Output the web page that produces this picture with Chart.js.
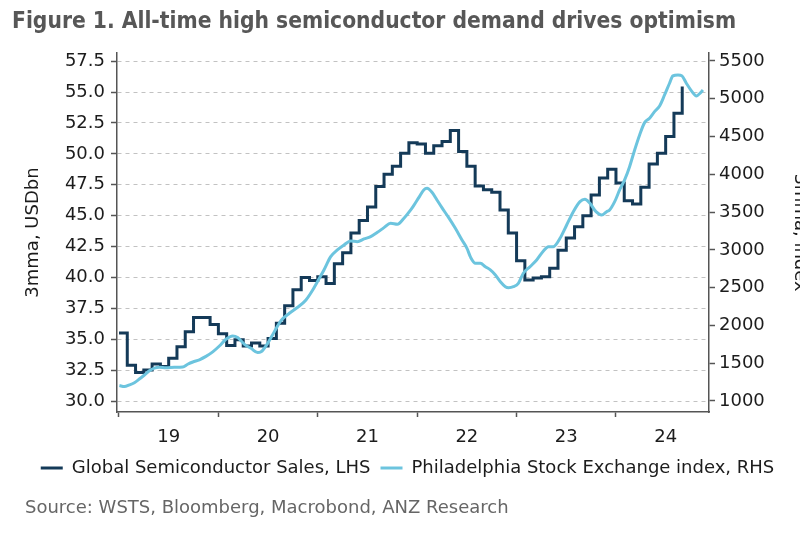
<!DOCTYPE html>
<html>
<head>
<meta charset="utf-8">
<script src="https://cdn.jsdelivr.net/npm/chart.js@4.4.1/dist/chart.umd.min.js"></script>
<style>
  html, body { margin: 0; padding: 0; overflow: hidden; background: #ffffff; width: 800px; height: 542px; }
  #wrap { position: relative; width: 815px; height: 542px; }
</style>
</head>
<body>
<div id="wrap"><canvas id="chart"></canvas></div>
<script>
const titleText = 'Figure 1. All-time high semiconductor demand drives optimism';
const sourceText = 'Source: WSTS, Bloomberg, Macrobond, ANZ Research';
const leftAxisTitle = '3mma, USDbn';
const rightAxisTitle = '3mma, index';
const semiLabel = 'Global Semiconductor Sales, LHS';
const soxLabel = 'Philadelphia Stock Exchange index, RHS';

// Monthly semiconductor sales (3mma, USDbn), Jan 2019 .. Sep 2024
const semiStartYear = 2019;
const semiSales = [
  35.5, 32.9, 32.3, 32.5, 33.0, 32.8, 33.45, 34.4, 35.6, 36.75, 36.75, 36.2,
  35.45, 34.5, 34.95, 34.45, 34.7, 34.45, 35.05, 36.3, 37.7, 39.0, 40.0, 39.75,
  40.05, 39.5, 41.1, 42.0, 43.6, 44.6, 45.7, 47.35, 48.35, 49.0, 50.05, 50.9,
  50.8, 50.05, 50.65, 51.0, 51.9, 50.2, 49.0, 47.4, 47.1, 46.9, 45.45, 43.6,
  41.35, 39.8, 39.95, 40.05, 40.75, 42.2, 43.2, 44.1, 45.0, 46.67, 48.05, 48.75,
  47.65, 46.2, 45.95, 47.3, 49.17, 50.05, 51.4, 53.28, 55.45
];

// Philadelphia semiconductor index (3mma), dates as decimal years
const soxDates = [
  2019.004, 2019.054, 2019.105, 2019.155, 2019.205, 2019.256, 2019.306, 2019.356, 2019.406, 2019.473,
  2019.557, 2019.641, 2019.691, 2019.743, 2019.809, 2019.875, 2019.943, 2020.010, 2020.076, 2020.144,
  2020.194, 2020.262, 2020.328, 2020.395, 2020.429, 2020.496, 2020.563, 2020.630, 2020.714, 2020.798,
  2020.881, 2020.949, 2020.996, 2021.062, 2021.130, 2021.197, 2021.264, 2021.331, 2021.398, 2021.465,
  2021.532, 2021.600, 2021.666, 2021.733, 2021.801, 2021.867, 2021.935, 2021.965, 2022.016, 2022.066,
  2022.099, 2022.149, 2022.199, 2022.249, 2022.317, 2022.384, 2022.451, 2022.501, 2022.538, 2022.586,
  2022.636, 2022.686, 2022.736, 2022.787, 2022.837, 2022.887, 2022.920, 2022.968, 2023.018, 2023.068,
  2023.135, 2023.202, 2023.270, 2023.320, 2023.370, 2023.437, 2023.504, 2023.571, 2023.638, 2023.688,
  2023.738, 2023.799, 2023.856, 2023.906, 2023.936, 2023.987, 2024.037, 2024.087, 2024.137, 2024.188,
  2024.238, 2024.288, 2024.338, 2024.388, 2024.439, 2024.489, 2024.539, 2024.573, 2024.624, 2024.664,
  2024.708, 2024.765, 2024.809, 2024.852, 2024.875
];
const soxValues = [
  1205, 1190, 1212, 1242, 1290, 1344, 1400, 1435, 1446, 1441,
  1446, 1450, 1486, 1516, 1545, 1590, 1650, 1728, 1817, 1860,
  1840, 1750, 1697, 1640, 1650, 1763, 1917, 2063, 2161, 2240,
  2337, 2469, 2579, 2734, 2910, 2999, 3065, 3118, 3108, 3144,
  3175, 3232, 3294, 3352, 3339, 3418, 3528, 3585, 3691, 3793,
  3815, 3762, 3660, 3558, 3426, 3285, 3130, 3020, 2900, 2822,
  2822, 2777, 2734, 2668, 2579, 2513, 2500, 2513, 2557, 2690,
  2777, 2866, 2985, 3042, 3042, 3153, 3329, 3505, 3638, 3669,
  3616, 3505, 3462, 3505, 3528, 3638, 3793, 3925, 4101, 4322,
  4521, 4684, 4742, 4829, 4904, 5050, 5205, 5302, 5315, 5302,
  5205, 5094, 5037, 5080, 5116
];

const yearTicks = [2019, 2020, 2021, 2022, 2023, 2024];
const leftTicks = [30, 32.5, 35, 37.5, 40, 42.5, 45, 47.5, 50, 52.5, 55, 57.5];
const rightTicks = [1000, 1500, 2000, 2500, 3000, 3500, 4000, 4500, 5000, 5500];

const FONT = "'DejaVu Sans', Verdana, sans-serif";
const semiColor = '#143a58';
const soxColor = '#6cc4de';
const axisColor = '#555555';
const textColor = '#1c1c1c';

Chart.defaults.font.family = FONT;
Chart.defaults.font.size = 18;
Chart.defaults.color = textColor;

const textShift = {
  id: 'textShift',
  afterLayout(chart) {
    chart.boxes.forEach(b => {
      if (!b.options) return;
      if (b.options.text === titleText) { const w = b.right - b.left; b.left = 12; b.right = 12 + w; }
      if (b.options.text === sourceText) { const w = b.right - b.left; b.left = 25; b.right = 25 + w; }
    });
  }
};

const xTicks = [];
yearTicks.forEach(y => { xTicks.push(y); xTicks.push(y + 0.5); });

new Chart(document.getElementById('chart'), {
  type: 'line',
  data: {
    datasets: [
      {
        label: semiLabel,
        data: semiSales.map((v, i) => ({ x: semiStartYear + i / 12, y: v })),
        yAxisID: 'y',
        borderColor: semiColor,
        backgroundColor: semiColor,
        borderWidth: 3,
        stepped: 'before',
        pointRadius: 0,
        order: 2
      },
      {
        label: soxLabel,
        data: soxDates.map((d, i) => ({ x: d, y: soxValues[i] })),
        yAxisID: 'y1',
        borderColor: soxColor,
        backgroundColor: soxColor,
        borderWidth: 3,
        pointRadius: 0,
        cubicInterpolationMode: 'monotone',
        order: 1
      }
    ]
  },
  options: {
    responsive: true,
    maintainAspectRatio: false,
    animation: false,
    events: [],
    layout: { padding: { left: 0, right: 0, top: 0, bottom: 0 } },
    scales: {
      x: {
        type: 'linear',
        min: 2018.98,
        max: 2024.936,
        afterBuildTicks: s => { s.ticks = xTicks.map(v => ({ value: v })); },
        afterFit: s => { s.height = 37; },
        ticks: {
          autoSkip: false,
          maxRotation: 0,
          padding: 10,
          color: textColor,
          font: { size: 18 },
          callback: v => (v % 1 === 0 ? '' : String(Math.floor(v) % 100))
        },
        grid: {
          drawOnChartArea: false,
          drawTicks: true,
          tickLength: 5,
          tickWidth: 1.5,
          tickColor: ctx => (ctx.tick && ctx.tick.value % 1 === 0 ? axisColor : 'rgba(0,0,0,0)')
        },
        border: { display: true, color: axisColor, width: 1.5 }
      },
      y: {
        position: 'left',
        min: 29.11,
        max: 58.16,
        afterBuildTicks: s => { s.ticks = leftTicks.map(v => ({ value: v })); },
        afterFit: s => { s.width = 117; },
        ticks: {
          padding: 6,
          color: textColor,
          font: { size: 18 },
          callback: v => Number(v).toFixed(1)
        },
        grid: {
          drawOnChartArea: true,
          color: '#c2c2c2',
          lineWidth: 1,
          drawTicks: true,
          tickLength: 6,
          tickWidth: 1.5,
          tickColor: axisColor
        },
        border: { display: true, color: axisColor, width: 1.5, dash: [4, 4] },
        title: {
          display: true,
          text: leftAxisTitle,
          color: textColor,
          font: { size: 18 },
          padding: { top: 23, bottom: 0 }
        }
      },
      y1: {
        position: 'right',
        min: 854,
        max: 5605,
        afterBuildTicks: s => { s.ticks = rightTicks.map(v => ({ value: v })); },
        afterFit: s => { s.width = 106; },
        ticks: {
          padding: 4,
          color: textColor,
          font: { size: 18 },
          callback: v => String(v)
        },
        grid: {
          drawOnChartArea: false,
          drawTicks: true,
          tickLength: 6,
          tickWidth: 1.5,
          tickColor: axisColor
        },
        border: { display: true, color: axisColor, width: 1.5 },
        title: {
          display: true,
          text: rightAxisTitle,
          color: textColor,
          font: { size: 18 },
          padding: { top: 5, bottom: 0 }
        }
      }
    },
    plugins: {
      tooltip: { enabled: false },
      title: {
        display: true,
        text: titleText,
        align: 'start',
        color: '#575757',
        font: { family: "'DejaVu Sans Condensed', 'DejaVu Sans', sans-serif", size: 22.6, weight: 'bold' },
        padding: { top: 9, bottom: 16.9 }
      },
      subtitle: {
        display: true,
        text: sourceText,
        position: 'bottom',
        align: 'start',
        color: '#666666',
        font: { size: 18, weight: 'normal' },
        padding: { top: 11, bottom: 22.4 }
      },
      legend: {
        display: true,
        position: 'bottom',
        labels: {
          boxWidth: 22,
          boxHeight: 3,
          padding: 10,
          color: textColor,
          font: { size: 18 },
          sort: (a, b) => a.datasetIndex - b.datasetIndex,
          generateLabels: chart => {
            const items = Chart.defaults.plugins.legend.labels.generateLabels(chart);
            items.forEach(it => { it.lineWidth = 0; });
            return items;
          }
        }
      }
    }
  },
  plugins: [textShift]
});
</script>
</body>
</html>
